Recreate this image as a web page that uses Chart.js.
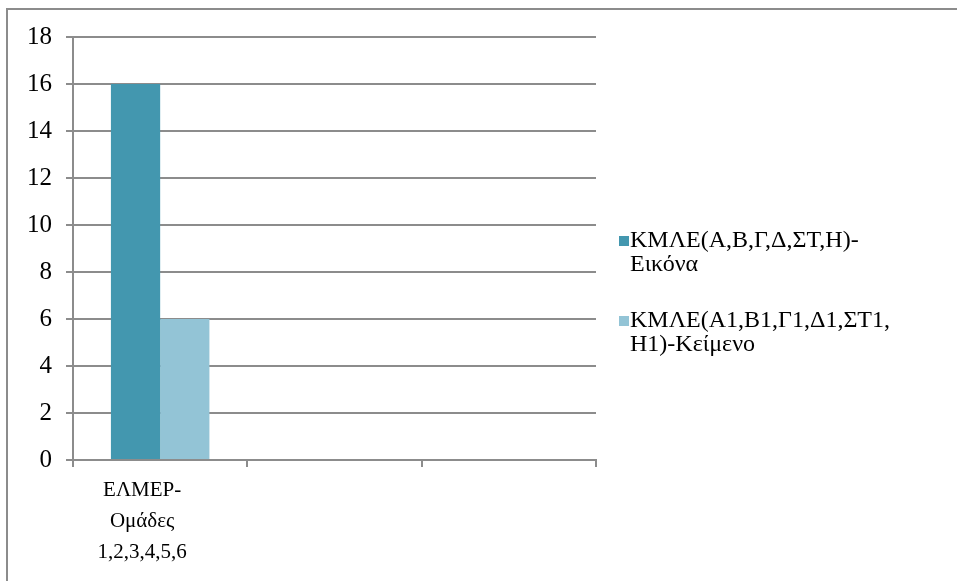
<!DOCTYPE html>
<html>
<head>
<meta charset="utf-8">
<script src="https://cdn.jsdelivr.net/npm/chart.js@4/dist/chart.umd.min.js"></script>
<style>
  html, body { margin: 0; padding: 0; background: #fff; overflow: hidden; }
  #wrap { position: relative; width: 957px; height: 581px; }
  #frame { position: absolute; left: 6px; top: 8px; width: 1000px; height: 700px;
           border-left: 2px solid #8c8c8c; border-top: 2px solid #8c8c8c; }
  canvas { position: absolute; left: 0; top: 0; }
</style>
</head>
<body>
<div id="wrap">
  <div id="frame"></div>
  <canvas id="grafico" width="957" height="581"></canvas>
</div>
<script>
// Κατηγορίες και σειρές
const categorias = [['ΕΛΜΕΡ-', 'Ομάδες', '1,2,3,4,5,6'], '', ''];
const serieEikona = [16, null, null];
const serieKeimeno = [6, null, null];
const legendaEikona = ['ΚΜΛΕ(Α,Β,Γ,Δ,ΣΤ,Η)-', 'Εικόνα'];
const legendaKeimeno = ['ΚΜΛΕ(Α1,Β1,Γ1,Δ1,ΣΤ1,', 'Η1)-Κείμενο'];

const fonte = '"Liberation Serif", "Times New Roman", serif';
const corGrade = '#8c8c8c';

// Legenda desenhada à mão (rótulos em duas linhas)
const legendaPlugin = {
    id: 'legendaLateral',
    afterDraw(chart) {
        const ctx = chart.ctx;
        ctx.save();
        ctx.font = '24px ' + fonte;
        ctx.textBaseline = 'middle';
        let y = 241;
        chart.data.datasets.forEach(function (ds) {
            ctx.fillStyle = ds.backgroundColor;
            ctx.fillRect(619, y - 5, 10, 10);
            ctx.fillStyle = '#000';
            ds.linhas.forEach(function (linha, i) {
                ctx.fillText(linha, 630, y + i * 24);
            });
            y += 80;
        });
        ctx.restore();
    }
};

const ctx = document.getElementById('grafico').getContext('2d');
new Chart(ctx, {
    type: 'bar',
    data: {
        labels: categorias,
        datasets: [
            { label: legendaEikona.join(' '), linhas: legendaEikona, data: serieEikona, backgroundColor: '#4397af' },
            { label: legendaKeimeno.join(' '), linhas: legendaKeimeno, data: serieKeimeno, backgroundColor: '#93c4d6' }
        ]
    },
    options: {
        responsive: false,
        animation: false,
        layout: { padding: { left: 0, top: 37, right: 361, bottom: 0 } },
        datasets: { bar: { categoryPercentage: 0.565, barPercentage: 1 } },
        plugins: { legend: { display: false }, tooltip: { enabled: false } },
        scales: {
            x: {
                afterFit: function (s) { s.height = 121; },
                grid: { drawOnChartArea: false, tickLength: 7, color: corGrade, lineWidth: 2 },
                border: { color: corGrade, width: 2 },
                ticks: { color: '#000', font: { family: fonte, size: 21, lineHeight: 1.48 }, padding: 8,
                         maxRotation: 0, labelOffset: -18 }
            },
            y: {
                min: 0, max: 18,
                afterFit: function (s) { s.width = 73; },
                grid: { tickLength: 7, color: corGrade, lineWidth: 2 },
                border: { color: corGrade, width: 2 },
                ticks: { stepSize: 2, color: '#000', font: { family: fonte, size: 25 }, padding: 14 }
            }
        }
    },
    plugins: [legendaPlugin]
});
</script>
</body>
</html>
